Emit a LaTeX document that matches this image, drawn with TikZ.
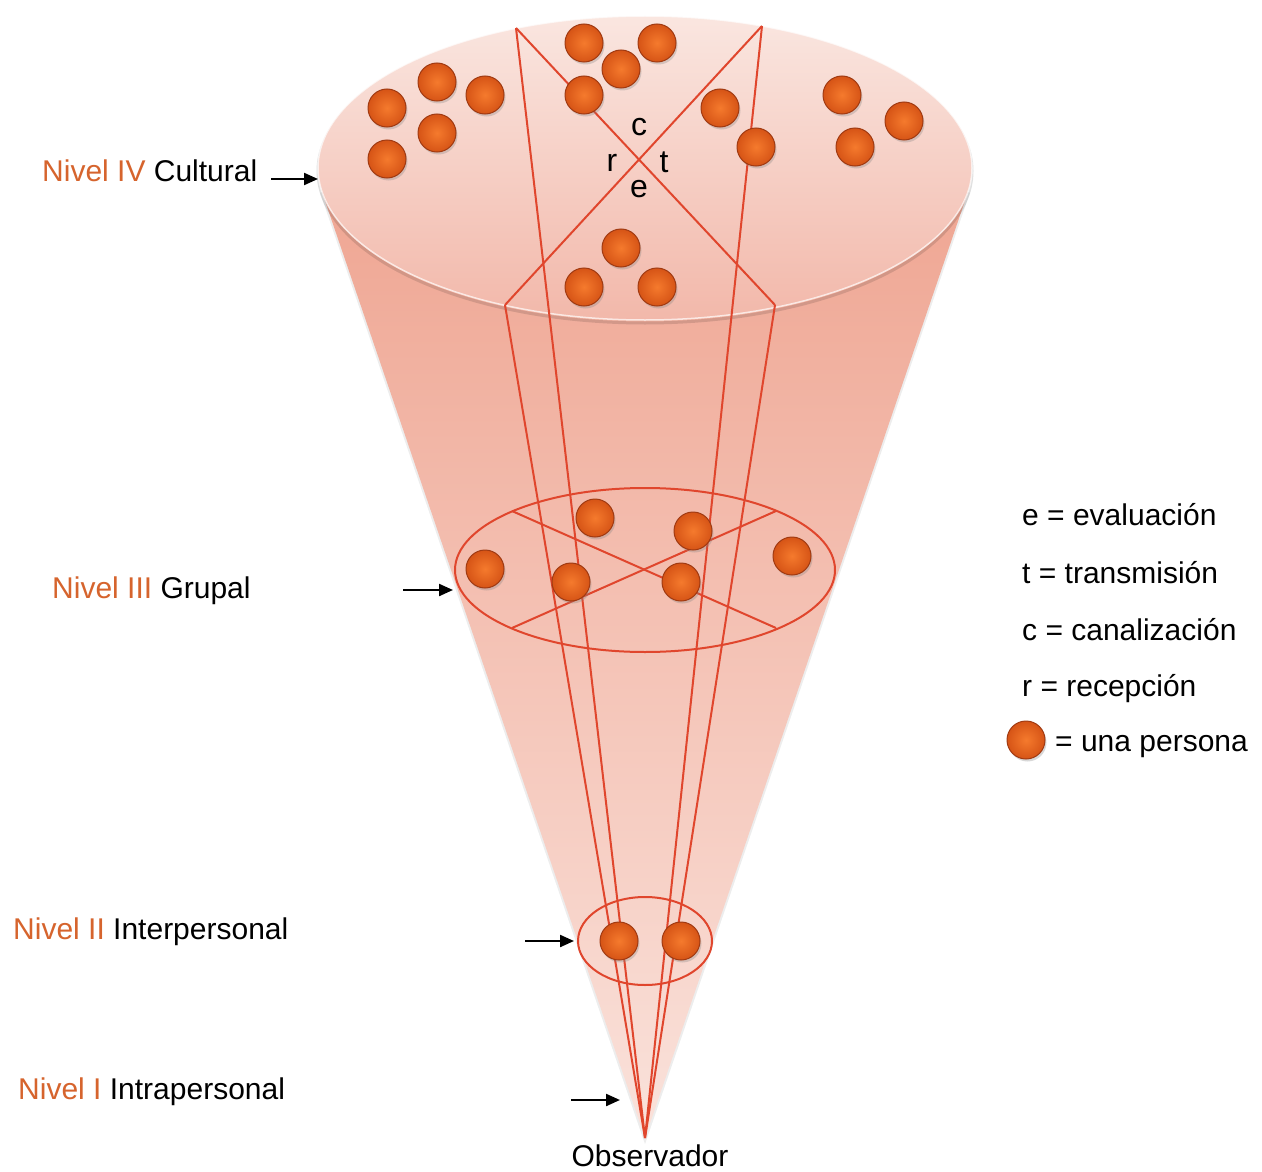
\documentclass[tikz,border=0pt]{standalone}
\usepackage{fontspec}
\setmainfont{Liberation Sans}
\usetikzlibrary{shadows,arrows.meta}

\definecolor{otext}{RGB}{214,100,45}
\definecolor{rline}{RGB}{224,70,45}
\definecolor{ballin}{RGB}{245,122,45}
\definecolor{ballout}{RGB}{214,84,22}
\definecolor{ballrim}{RGB}{160,58,18}
\definecolor{conetop}{RGB}{239,166,147}
\definecolor{conebot}{RGB}{250,226,219}
\definecolor{facetop}{RGB}{250,230,224}
\definecolor{facebot}{RGB}{242,184,170}

\tikzset{
  person/.style={circle, minimum size=38pt, inner sep=0pt, draw=ballrim, line width=1pt,
    shade, inner color=ballin, outer color=ballout,
    drop shadow={opacity=0.3, shadow xshift=1.5pt, shadow yshift=-2.5pt}},
  rl/.style={draw=rline, line width=2pt},
  lvl/.style={anchor=base west, inner sep=0pt, font=\fontsize{30}{36}\selectfont},
  lab/.style={anchor=base, inner sep=0pt, font=\fontsize{30}{36}\selectfont},
  letter/.style={anchor=center, inner sep=0pt, font=\fontsize{32}{38}\selectfont},
  ptr/.style={-{Triangle[length=14pt,width=12pt]}, line width=2.2pt, black},
}

\begin{document}
\begin{tikzpicture}[x=1pt,y=-1pt]
\fill[white] (0,0) rectangle (1262,1172);
\useasboundingbox (0,0) rectangle (1262,1172);

% cone body
\coordinate (apex) at (645,1138);
\coordinate (cl) at (322,192);
\coordinate (cr) at (968,192);
\draw[black, opacity=0.07, line width=4pt] (cl) -- (apex) -- (cr);
\shade[top color=conetop, bottom color=conebot] (cl) -- (apex) -- (cr) -- cycle;

% top face
\coordinate (topc) at (645,168);
\draw[black, opacity=0.12, line width=3pt] (645,171) ellipse [x radius=327pt, y radius=152pt];
\shade[top color=facetop, bottom color=facebot] (topc) ellipse [x radius=327pt, y radius=152pt];
\draw[white, opacity=0.7, line width=1.5pt] (topc) ellipse [x radius=327pt, y radius=152pt];

% red sight lines
\coordinate (tl) at (516,28);
\coordinate (tr) at (762,26);
\coordinate (bl) at (505,305);
\coordinate (br) at (775,305);
\draw[rl] (tl) -- (br);
\draw[rl] (tr) -- (bl);
\draw[rl] (apex) -- (bl);
\draw[rl] (apex) -- (tl);
\draw[rl] (apex) -- (tr);
\draw[rl] (apex) -- (br);

% group ellipse
\coordinate (grc) at (645,570);
\draw[rl] (grc) ellipse [x radius=190pt, y radius=82pt];
\coordinate (g1) at (512,511);
\coordinate (g2) at (776,628);
\coordinate (g3) at (512,628);
\coordinate (g4) at (776,511);
\draw[rl] (g1) -- (g2);
\draw[rl] (g3) -- (g4);

% interpersonal ellipse
\coordinate (ipc) at (645,941);
\draw[rl] (ipc) ellipse [x radius=67pt, y radius=44pt];

% persons: cultural level
\node[person] (c1) at (387,108) {};
\node[person] (c2) at (437,82) {};
\node[person] (c3) at (485,95) {};
\node[person] (c4) at (437,133) {};
\node[person] (c5) at (387,159) {};
\node[person] (c6) at (584,43) {};
\node[person] (c7) at (657,43) {};
\node[person] (c8) at (621,69) {};
\node[person] (c9) at (584,95) {};
\node[person] (c10) at (720,108) {};
\node[person] (c11) at (756,147) {};
\node[person] (c12) at (842,95) {};
\node[person] (c13) at (904,121) {};
\node[person] (c14) at (855,147) {};
\node[person] (c15) at (621,248) {};
\node[person] (c16) at (584,287) {};
\node[person] (c17) at (657,287) {};

% persons: group level
\node[person] (g5) at (485,569) {};
\node[person] (g6) at (595,518) {};
\node[person] (g7) at (693,531) {};
\node[person] (g8) at (571,582) {};
\node[person] (g9) at (681,582) {};
\node[person] (g10) at (792,556) {};

% persons: interpersonal level
\node[person] (i1) at (619,941) {};
\node[person] (i2) at (681,941) {};

% c r t e letters
\node[letter] (lc) at (639,127) {c};
\node[letter] (lr) at (612,163) {r};
\node[letter] (lt) at (664,162) {t};
\node[letter] (le) at (639,189) {e};

% level labels
\node[lvl] (n4) at (42,181) {{\color{otext}Nivel IV} Cultural};
\node[lvl] (n3) at (52,598) {{\color{otext}Nivel III} Grupal};
\node[lvl] (n2) at (13,939) {{\color{otext}Nivel II} Interpersonal};
\node[lvl] (n1) at (18,1099) {{\color{otext}Nivel I} Intrapersonal};
\node[lab] (obs) at (650,1166) {Observador};

% pointer arrows
\coordinate (a4s) at (271,179);
\coordinate (a4e) at (318,179);
\coordinate (a3s) at (403,590);
\coordinate (a3e) at (453,590);
\coordinate (a2s) at (525,941);
\coordinate (a2e) at (574,941);
\coordinate (a1s) at (571,1100);
\coordinate (a1e) at (620,1100);
\draw[ptr] (a4s) -- (a4e);
\draw[ptr] (a3s) -- (a3e);
\draw[ptr] (a2s) -- (a2e);
\draw[ptr] (a1s) -- (a1e);

% legend
\node[lvl] (le1) at (1022,525) {e = evaluación};
\node[lvl] (le2) at (1022,583) {t = transmisión};
\node[lvl] (le3) at (1022,640) {c = canalización};
\node[lvl] (le4) at (1022,696) {r = recepción};
\node[person] (lp) at (1026,740) {};
\node[lvl] (le5) at (1055,751) {= una persona};
\end{tikzpicture}
\end{document}
